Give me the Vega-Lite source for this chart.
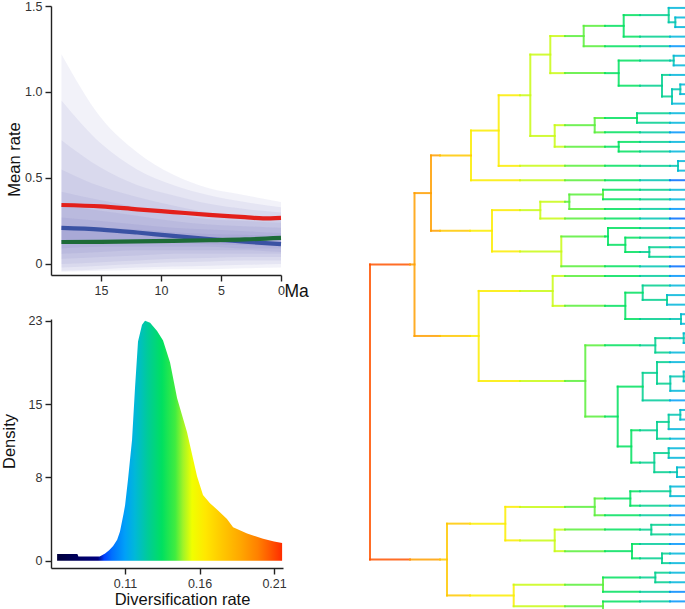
{
"$schema": "https://vega.github.io/schema/vega-lite/v6.json",
"padding": {"left": 1, "top": 0, "right": 0, "bottom": 0},
"background": "white",
"spacing": 59,
"config": {
  "view": {"stroke": null},
  "font": "Liberation Sans",
  "axis": {"domainColor": "#222222", "domainWidth": 1.4, "tickColor": "#222222", "tickWidth": 1.4, "tickSize": 6, "labelColor": "#333333", "labelFontSize": 12.5, "labelFont": "Liberation Sans", "titleFont": "Liberation Sans", "titleFontSize": 16.5, "titleFontWeight": "normal", "titleColor": "#111111", "grid": false, "labelPadding": 3}
},
"datasets": {
  "bands": [
    {"ma":18.3,"lo":-0.045,"hi":1.22,"lev":1},{"ma":15,"lo":-0.04,"hi":0.85,"lev":1},{"ma":12,"lo":-0.035,"hi":0.65,"lev":1},{"ma":9,"lo":-0.03,"hi":0.52,"lev":1},{"ma":6,"lo":-0.03,"hi":0.44,"lev":1},{"ma":3,"lo":-0.025,"hi":0.4,"lev":1},{"ma":0,"lo":-0.02,"hi":0.36,"lev":1},
    {"ma":18.3,"lo":-0.04,"hi":0.95,"lev":2},{"ma":15,"lo":-0.03,"hi":0.7,"lev":2},{"ma":12,"lo":-0.02,"hi":0.55,"lev":2},{"ma":9,"lo":-0.015,"hi":0.46,"lev":2},{"ma":6,"lo":-0.01,"hi":0.4,"lev":2},{"ma":3,"lo":-0.005,"hi":0.36,"lev":2},{"ma":0,"lo":0,"hi":0.33,"lev":2},
    {"ma":18.3,"lo":-0.02,"hi":0.72,"lev":3},{"ma":15,"lo":-0.01,"hi":0.56,"lev":3},{"ma":12,"lo":0,"hi":0.46,"lev":3},{"ma":9,"lo":0.01,"hi":0.4,"lev":3},{"ma":6,"lo":0.015,"hi":0.35,"lev":3},{"ma":3,"lo":0.02,"hi":0.32,"lev":3},{"ma":0,"lo":0.02,"hi":0.3,"lev":3},
    {"ma":18.3,"lo":0,"hi":0.55,"lev":4},{"ma":15,"lo":0.01,"hi":0.45,"lev":4},{"ma":12,"lo":0.02,"hi":0.39,"lev":4},{"ma":9,"lo":0.03,"hi":0.34,"lev":4},{"ma":6,"lo":0.035,"hi":0.3,"lev":4},{"ma":3,"lo":0.04,"hi":0.28,"lev":4},{"ma":0,"lo":0.04,"hi":0.27,"lev":4},
    {"ma":18.3,"lo":0.03,"hi":0.42,"lev":5},{"ma":15,"lo":0.04,"hi":0.37,"lev":5},{"ma":12,"lo":0.05,"hi":0.33,"lev":5},{"ma":9,"lo":0.06,"hi":0.29,"lev":5},{"ma":6,"lo":0.06,"hi":0.26,"lev":5},{"ma":3,"lo":0.06,"hi":0.25,"lev":5},{"ma":0,"lo":0.06,"hi":0.24,"lev":5},
    {"ma":18.3,"lo":0.06,"hi":0.34,"lev":6},{"ma":15,"lo":0.07,"hi":0.31,"lev":6},{"ma":12,"lo":0.08,"hi":0.28,"lev":6},{"ma":9,"lo":0.08,"hi":0.25,"lev":6},{"ma":6,"lo":0.08,"hi":0.23,"lev":6},{"ma":3,"lo":0.08,"hi":0.22,"lev":6},{"ma":0,"lo":0.07,"hi":0.21,"lev":6},
    {"ma":18.3,"lo":0.09,"hi":0.27,"lev":7},{"ma":15,"lo":0.1,"hi":0.25,"lev":7},{"ma":12,"lo":0.1,"hi":0.23,"lev":7},{"ma":9,"lo":0.1,"hi":0.21,"lev":7},{"ma":6,"lo":0.1,"hi":0.2,"lev":7},{"ma":3,"lo":0.09,"hi":0.19,"lev":7},{"ma":0,"lo":0.09,"hi":0.18,"lev":7},
    {"ma":18.3,"lo":0.12,"hi":0.22,"lev":8},{"ma":15,"lo":0.12,"hi":0.21,"lev":8},{"ma":12,"lo":0.12,"hi":0.2,"lev":8},{"ma":9,"lo":0.12,"hi":0.185,"lev":8},{"ma":6,"lo":0.115,"hi":0.175,"lev":8},{"ma":3,"lo":0.11,"hi":0.17,"lev":8},{"ma":0,"lo":0.105,"hi":0.16,"lev":8}
  ],
  "rates": [
    {"ma":18.3,"v":0.343,"s":"red"},{"ma":15,"v":0.335,"s":"red"},{"ma":12,"v":0.318,"s":"red"},{"ma":9,"v":0.302,"s":"red"},{"ma":6,"v":0.286,"s":"red"},{"ma":3,"v":0.272,"s":"red"},{"ma":1.5,"v":0.265,"s":"red"},{"ma":0,"v":0.268,"s":"red"},
    {"ma":18.3,"v":0.21,"s":"blue"},{"ma":15,"v":0.2,"s":"blue"},{"ma":12,"v":0.183,"s":"blue"},{"ma":9,"v":0.163,"s":"blue"},{"ma":6,"v":0.145,"s":"blue"},{"ma":3,"v":0.13,"s":"blue"},{"ma":0,"v":0.115,"s":"blue"},
    {"ma":18.3,"v":0.128,"s":"green"},{"ma":15,"v":0.129,"s":"green"},{"ma":12,"v":0.131,"s":"green"},{"ma":9,"v":0.134,"s":"green"},{"ma":6,"v":0.138,"s":"green"},{"ma":3,"v":0.143,"s":"green"},{"ma":0,"v":0.152,"s":"green"}
  ],
  "dens": [
    {"rate":0.0644,"d":0.65},{"rate":0.078,"d":0.65},{"rate":0.0787,"d":0.4},{"rate":0.093,"d":0.4},{"rate":0.0966,"d":0.7},{"rate":0.0993,"d":1.0},{"rate":0.102,"d":1.4},{"rate":0.1047,"d":2.0},{"rate":0.1066,"d":2.8},{"rate":0.109,"d":4.5},{"rate":0.11,"d":5.3},{"rate":0.112,"d":7.8},{"rate":0.1147,"d":11.6},{"rate":0.1167,"d":16.6},{"rate":0.1187,"d":21.0},{"rate":0.1214,"d":22.6},{"rate":0.1234,"d":23.0},{"rate":0.1268,"d":22.8},{"rate":0.1315,"d":22.0},{"rate":0.1355,"d":21.1},{"rate":0.1402,"d":19.0},{"rate":0.1449,"d":15.6},{"rate":0.1516,"d":12.3},{"rate":0.1583,"d":8.1},{"rate":0.1623,"d":6.3},{"rate":0.167,"d":5.5},{"rate":0.1717,"d":4.9},{"rate":0.1784,"d":4.0},{"rate":0.1825,"d":3.2},{"rate":0.1919,"d":2.6},{"rate":0.2026,"d":2.1},{"rate":0.21,"d":1.85},{"rate":0.2154,"d":1.7}
  ],
  "vseg": [
    {"x":0,"y":27.8,"y2":58.625,"r":0.208},{"x":44.5,"y":20.344,"y2":35.27,"r":0.19},{"x":61,"y":16.406,"y2":24.281,"r":0.19},{"x":77,"y":54.875,"y2":62.375,"r":0.175},
    {"x":101,"y":13.812,"y2":19,"r":0.162},{"x":108.7,"y":30.562,"y2":39.97,"r":0.162},{"x":122,"y":22.125,"y2":26.438,"r":0.162},{"x":128.7,"y":10.125,"y2":17.5,"r":0.162},{"x":135.3,"y":53.125,"y2":56.625,"r":0.162},{"x":143.7,"y":61.25,"y2":63.5,"r":0.162},
    {"x":160.3,"y":5.875,"y2":14.375,"r":0.152},{"x":170.3,"y":21.25,"y2":23,"r":0.152},{"x":180.3,"y":3.938,"y2":7.812,"r":0.152},{"x":182.7,"y":29,"y2":32.125,"r":0.152},{"x":184.7,"y":13.25,"y2":15.5,"r":0.152},{"x":184.7,"y":55.5,"y2":57.75,"r":0.152},{"x":191.3,"y":24.875,"y2":28,"r":0.152},
    {"x":199.3,"y":20.5,"y2":22,"r":0.145},{"x":213.7,"y":2.875,"y2":5,"r":0.145},{"x":215.3,"y":36.25,"y2":43.688,"r":0.145},{"x":224.7,"y":12.5,"y2":14,"r":0.145},{"x":224.7,"y":52.25,"y2":54,"r":0.145},{"x":233,"y":20,"y2":21,"r":0.145},{"x":233,"y":60.5,"y2":62,"r":0.145},{"x":233,"y":63,"y2":64,"r":0.145},
    {"x":238,"y":24,"y2":25.75,"r":0.135},{"x":247.7,"y":40.562,"y2":46.812,"r":0.135},{"x":248.7,"y":6.5,"y2":9.125,"r":0.135},{"x":248.7,"y":15,"y2":16,"r":0.135},{"x":253.7,"y":1.75,"y2":4,"r":0.135},{"x":255.3,"y":25,"y2":26.5,"r":0.135},{"x":255.3,"y":30.75,"y2":33.5,"r":0.135},{"x":260.3,"y":51.5,"y2":53,"r":0.135},{"x":261.3,"y":45.125,"y2":48.5,"r":0.135},{"x":262,"y":57,"y2":58.5,"r":0.135},{"x":267,"y":12,"y2":13,"r":0.135},
    {"x":272.7,"y":30,"y2":31.5,"r":0.127},{"x":272.7,"y":39.125,"y2":42,"r":0.127},{"x":279.3,"y":26,"y2":27,"r":0.127},{"x":281.3,"y":55,"y2":56,"r":0.127},{"x":284.3,"y":47.5,"y2":49.5,"r":0.127},{"x":285.3,"y":35.5,"y2":37,"r":0.127},{"x":285.3,"y":60,"y2":61,"r":0.127},{"x":287,"y":38,"y2":40.25,"r":0.127},{"x":287,"y":44.25,"y2":46,"r":0.127},{"x":292,"y":8,"y2":10.25,"r":0.127},{"x":292,"y":58,"y2":59,"r":0.127},{"x":297,"y":31,"y2":32,"r":0.127},{"x":298.7,"y":1,"y2":2.5,"r":0.127},{"x":298.7,"y":43.5,"y2":45,"r":0.127},{"x":298.7,"y":47,"y2":48,"r":0.127},
    {"x":300.3,"y":39.5,"y2":41,"r":0.122},{"x":300.3,"y":51,"y2":52,"r":0.122},{"x":302,"y":9.5,"y2":11,"r":0.122},{"x":303.7,"y":6,"y2":7,"r":0.122},{"x":305.3,"y":2,"y2":3,"r":0.122},{"x":307,"y":49,"y2":50,"r":0.122},{"x":308,"y":17,"y2":18,"r":0.122},{"x":310.3,"y":9,"y2":10,"r":0.122},{"x":310.3,"y":43,"y2":44,"r":0.122},{"x":311,"y":33,"y2":34,"r":0.122},{"x":313.7,"y":35,"y2":36,"r":0.122},{"x":313.7,"y":39,"y2":40,"r":0.122}
  ],
  "hseg": [
    {"x":0,"x2":40,"y":27.8,"r":0.208},{"x":40,"x2":44.5,"y":27.8,"r":0.19},
    {"x":0,"x2":40,"y":58.625,"r":0.208},{"x":40,"x2":70,"y":58.625,"r":0.19},{"x":70,"x2":77,"y":58.625,"r":0.175},
    {"x":44.5,"x2":61,"y":20.344,"r":0.19},
    {"x":44.5,"x2":70,"y":35.27,"r":0.19},{"x":70,"x2":100,"y":35.27,"r":0.175},{"x":100,"x2":108.7,"y":35.27,"r":0.162},
    {"x":61,"x2":70,"y":16.406,"r":0.19},{"x":70,"x2":101,"y":16.406,"r":0.175},
    {"x":61,"x2":70,"y":24.281,"r":0.19},{"x":70,"x2":100,"y":24.281,"r":0.175},{"x":100,"x2":122,"y":24.281,"r":0.162},
    {"x":77,"x2":100,"y":54.875,"r":0.175},{"x":100,"x2":135.3,"y":54.875,"r":0.162},
    {"x":77,"x2":100,"y":62.375,"r":0.175},{"x":100,"x2":143.7,"y":62.375,"r":0.162},
    {"x":101,"x2":128.7,"y":13.812,"r":0.162},
    {"x":128.7,"x2":150,"y":10.125,"r":0.162},{"x":150,"x2":160.3,"y":10.125,"r":0.152},
    {"x":128.7,"x2":150,"y":17.5,"r":0.162},{"x":150,"x2":195,"y":17.5,"r":0.152},{"x":195,"x2":235,"y":17.5,"r":0.145},{"x":235,"x2":270,"y":17.5,"r":0.135},{"x":270,"x2":300,"y":17.5,"r":0.127},{"x":300,"x2":308,"y":17.5,"r":0.122},
    {"x":160.3,"x2":180.3,"y":5.875,"r":0.152},
    {"x":160.3,"x2":184.7,"y":14.375,"r":0.152},
    {"x":180.3,"x2":195,"y":3.938,"r":0.152},{"x":195,"x2":213.7,"y":3.938,"r":0.145},
    {"x":180.3,"x2":195,"y":7.812,"r":0.152},{"x":195,"x2":235,"y":7.812,"r":0.145},{"x":235,"x2":248.7,"y":7.812,"r":0.135},
    {"x":213.7,"x2":235,"y":2.875,"r":0.145},{"x":235,"x2":253.7,"y":2.875,"r":0.135},
    {"x":253.7,"x2":270,"y":1.75,"r":0.135},{"x":270,"x2":298.7,"y":1.75,"r":0.127},
    {"x":298.7,"x2":305.3,"y":2.5,"r":0.122},
    {"x":248.7,"x2":270,"y":6.5,"r":0.135},{"x":270,"x2":300,"y":6.5,"r":0.127},{"x":300,"x2":303.7,"y":6.5,"r":0.122},
    {"x":248.7,"x2":270,"y":9.125,"r":0.135},{"x":270,"x2":292,"y":9.125,"r":0.127},
    {"x":292,"x2":302,"y":10.25,"r":0.127},
    {"x":302,"x2":310.3,"y":9.5,"r":0.122},
    {"x":184.7,"x2":195,"y":13.25,"r":0.152},{"x":195,"x2":224.7,"y":13.25,"r":0.145},
    {"x":224.7,"x2":235,"y":12.5,"r":0.145},{"x":235,"x2":267,"y":12.5,"r":0.135},
    {"x":184.7,"x2":195,"y":15.5,"r":0.152},{"x":195,"x2":235,"y":15.5,"r":0.145},{"x":235,"x2":248.7,"y":15.5,"r":0.135},
    {"x":122,"x2":150,"y":22.125,"r":0.162},{"x":150,"x2":170.3,"y":22.125,"r":0.152},
    {"x":122,"x2":150,"y":26.438,"r":0.162},{"x":150,"x2":191.3,"y":26.438,"r":0.152},
    {"x":170.3,"x2":195,"y":21.25,"r":0.152},{"x":195,"x2":199.3,"y":21.25,"r":0.145},
    {"x":199.3,"x2":233,"y":20.5,"r":0.145},
    {"x":191.3,"x2":235,"y":24.875,"r":0.145},{"x":235,"x2":238,"y":24.875,"r":0.135},
    {"x":238,"x2":255.3,"y":25.75,"r":0.135},
    {"x":255.3,"x2":270,"y":26.5,"r":0.135},{"x":270,"x2":279.3,"y":26.5,"r":0.127},
    {"x":108.7,"x2":150,"y":30.562,"r":0.162},{"x":150,"x2":182.7,"y":30.562,"r":0.152},
    {"x":108.7,"x2":150,"y":39.97,"r":0.162},{"x":150,"x2":195,"y":39.97,"r":0.152},{"x":195,"x2":215.3,"y":39.97,"r":0.145},
    {"x":182.7,"x2":195,"y":32.125,"r":0.152},{"x":195,"x2":235,"y":32.125,"r":0.145},{"x":235,"x2":255.3,"y":32.125,"r":0.135},
    {"x":255.3,"x2":272.7,"y":30.75,"r":0.135},
    {"x":272.7,"x2":297,"y":31.5,"r":0.127},
    {"x":255.3,"x2":270,"y":33.5,"r":0.135},{"x":270,"x2":300,"y":33.5,"r":0.127},{"x":300,"x2":311,"y":33.5,"r":0.122},
    {"x":215.3,"x2":235,"y":36.25,"r":0.145},{"x":235,"x2":270,"y":36.25,"r":0.135},{"x":270,"x2":285.3,"y":36.25,"r":0.127},
    {"x":285.3,"x2":300,"y":35.5,"r":0.127},{"x":300,"x2":313.7,"y":35.5,"r":0.122},
    {"x":215.3,"x2":235,"y":43.688,"r":0.145},{"x":235,"x2":247.7,"y":43.688,"r":0.135},
    {"x":247.7,"x2":272.7,"y":40.562,"r":0.135},
    {"x":272.7,"x2":287,"y":39.125,"r":0.127},
    {"x":287,"x2":300.3,"y":40.25,"r":0.127},
    {"x":300.3,"x2":313.7,"y":39.5,"r":0.122},
    {"x":247.7,"x2":261.3,"y":46.812,"r":0.135},
    {"x":261.3,"x2":270,"y":45.125,"r":0.135},{"x":270,"x2":287,"y":45.125,"r":0.127},
    {"x":287,"x2":298.7,"y":44.25,"r":0.127},
    {"x":298.7,"x2":310.3,"y":43.5,"r":0.122},
    {"x":261.3,"x2":270,"y":48.5,"r":0.135},{"x":270,"x2":284.3,"y":48.5,"r":0.127},
    {"x":284.3,"x2":298.7,"y":47.5,"r":0.127},
    {"x":284.3,"x2":300,"y":49.5,"r":0.127},{"x":300,"x2":307,"y":49.5,"r":0.122},
    {"x":135.3,"x2":150,"y":53.125,"r":0.162},{"x":150,"x2":195,"y":53.125,"r":0.152},{"x":195,"x2":224.7,"y":53.125,"r":0.145},
    {"x":224.7,"x2":235,"y":52.25,"r":0.145},{"x":235,"x2":260.3,"y":52.25,"r":0.135},
    {"x":260.3,"x2":270,"y":51.5,"r":0.135},{"x":270,"x2":300.3,"y":51.5,"r":0.127},
    {"x":135.3,"x2":150,"y":56.625,"r":0.162},{"x":150,"x2":184.7,"y":56.625,"r":0.152},
    {"x":184.7,"x2":195,"y":55.5,"r":0.152},{"x":195,"x2":235,"y":55.5,"r":0.145},{"x":235,"x2":270,"y":55.5,"r":0.135},{"x":270,"x2":281.3,"y":55.5,"r":0.127},
    {"x":184.7,"x2":195,"y":57.75,"r":0.152},{"x":195,"x2":235,"y":57.75,"r":0.145},{"x":235,"x2":262,"y":57.75,"r":0.135},
    {"x":262,"x2":270,"y":58.5,"r":0.135},{"x":270,"x2":292,"y":58.5,"r":0.127},
    {"x":143.7,"x2":195,"y":61.25,"r":0.152},{"x":195,"x2":233,"y":61.25,"r":0.145},
    {"x":233,"x2":270,"y":60.5,"r":0.135},{"x":270,"x2":285.3,"y":60.5,"r":0.127},
    {"x":143.7,"x2":195,"y":63.5,"r":0.152},{"x":195,"x2":233,"y":63.5,"r":0.145},
    {"x":298.7,"x2":317,"y":1,"r":0.116},
    {"x":305.3,"x2":317,"y":2,"r":0.116},{"x":305.3,"x2":317,"y":3,"r":0.116},
    {"x":253.7,"x2":270,"y":4,"r":0.135},{"x":270,"x2":300,"y":4,"r":0.127},{"x":300,"x2":317,"y":4,"r":0.116},
    {"x":213.7,"x2":235,"y":5,"r":0.145},{"x":235,"x2":270,"y":5,"r":0.135},{"x":270,"x2":300,"y":5,"r":0.125},{"x":300,"x2":317,"y":5,"r":0.108},
    {"x":303.7,"x2":317,"y":6,"r":0.116},{"x":303.7,"x2":317,"y":7,"r":0.116},
    {"x":292,"x2":300,"y":8,"r":0.127},{"x":300,"x2":317,"y":8,"r":0.116},
    {"x":310.3,"x2":317,"y":9,"r":0.116},{"x":310.3,"x2":317,"y":10,"r":0.116},
    {"x":302,"x2":317,"y":11,"r":0.116},
    {"x":267,"x2":300,"y":12,"r":0.127},{"x":300,"x2":317,"y":12,"r":0.116},
    {"x":267,"x2":300,"y":13,"r":0.127},{"x":300,"x2":317,"y":13,"r":0.116},
    {"x":224.7,"x2":235,"y":14,"r":0.145},{"x":235,"x2":270,"y":14,"r":0.135},{"x":270,"x2":300,"y":14,"r":0.125},{"x":300,"x2":317,"y":14,"r":0.108},
    {"x":248.7,"x2":270,"y":15,"r":0.135},{"x":270,"x2":300,"y":15,"r":0.127},{"x":300,"x2":317,"y":15,"r":0.116},
    {"x":248.7,"x2":270,"y":16,"r":0.135},{"x":270,"x2":300,"y":16,"r":0.127},{"x":300,"x2":317,"y":16,"r":0.116},
    {"x":308,"x2":317,"y":17,"r":0.116},{"x":308,"x2":317,"y":18,"r":0.116},
    {"x":101,"x2":150,"y":19,"r":0.162},{"x":150,"x2":195,"y":19,"r":0.152},{"x":195,"x2":235,"y":19,"r":0.145},{"x":235,"x2":270,"y":19,"r":0.135},{"x":270,"x2":300,"y":19,"r":0.122},{"x":300,"x2":317,"y":19,"r":0.101},
    {"x":233,"x2":270,"y":20,"r":0.135},{"x":270,"x2":300,"y":20,"r":0.127},{"x":300,"x2":317,"y":20,"r":0.116},
    {"x":233,"x2":270,"y":21,"r":0.135},{"x":270,"x2":300,"y":21,"r":0.127},{"x":300,"x2":317,"y":21,"r":0.116},
    {"x":199.3,"x2":235,"y":22,"r":0.145},{"x":235,"x2":270,"y":22,"r":0.135},{"x":270,"x2":300,"y":22,"r":0.125},{"x":300,"x2":317,"y":22,"r":0.108},
    {"x":170.3,"x2":195,"y":23,"r":0.152},{"x":195,"x2":235,"y":23,"r":0.145},{"x":235,"x2":270,"y":23,"r":0.135},{"x":270,"x2":300,"y":23,"r":0.122},{"x":300,"x2":317,"y":23,"r":0.101},
    {"x":238,"x2":270,"y":24,"r":0.135},{"x":270,"x2":300,"y":24,"r":0.127},{"x":300,"x2":317,"y":24,"r":0.116},
    {"x":255.3,"x2":270,"y":25,"r":0.135},{"x":270,"x2":300,"y":25,"r":0.127},{"x":300,"x2":317,"y":25,"r":0.116},
    {"x":279.3,"x2":300,"y":26,"r":0.127},{"x":300,"x2":317,"y":26,"r":0.116},
    {"x":279.3,"x2":300,"y":27,"r":0.127},{"x":300,"x2":317,"y":27,"r":0.116},
    {"x":191.3,"x2":235,"y":28,"r":0.145},{"x":235,"x2":270,"y":28,"r":0.135},{"x":270,"x2":300,"y":28,"r":0.122},{"x":300,"x2":317,"y":28,"r":0.101},
    {"x":182.7,"x2":195,"y":29,"r":0.152},{"x":195,"x2":235,"y":29,"r":0.145},{"x":235,"x2":270,"y":29,"r":0.135},{"x":270,"x2":300,"y":29,"r":0.125},{"x":300,"x2":317,"y":29,"r":0.108},
    {"x":272.7,"x2":300,"y":30,"r":0.127},{"x":300,"x2":317,"y":30,"r":0.116},
    {"x":297,"x2":317,"y":31,"r":0.116},{"x":297,"x2":317,"y":32,"r":0.116},
    {"x":311,"x2":317,"y":33,"r":0.116},{"x":311,"x2":317,"y":34,"r":0.116},
    {"x":313.7,"x2":317,"y":35,"r":0.116},{"x":313.7,"x2":317,"y":36,"r":0.116},
    {"x":285.3,"x2":300,"y":37,"r":0.127},{"x":300,"x2":317,"y":37,"r":0.116},
    {"x":287,"x2":300,"y":38,"r":0.127},{"x":300,"x2":317,"y":38,"r":0.116},
    {"x":313.7,"x2":317,"y":39,"r":0.116},{"x":313.7,"x2":317,"y":40,"r":0.116},
    {"x":300.3,"x2":317,"y":41,"r":0.116},
    {"x":272.7,"x2":300,"y":42,"r":0.125},{"x":300,"x2":317,"y":42,"r":0.11},
    {"x":310.3,"x2":317,"y":43,"r":0.116},{"x":310.3,"x2":317,"y":44,"r":0.116},
    {"x":298.7,"x2":317,"y":45,"r":0.116},
    {"x":287,"x2":300,"y":46,"r":0.127},{"x":300,"x2":317,"y":46,"r":0.116},
    {"x":298.7,"x2":317,"y":47,"r":0.116},{"x":298.7,"x2":317,"y":48,"r":0.116},
    {"x":307,"x2":317,"y":49,"r":0.116},{"x":307,"x2":317,"y":50,"r":0.116},
    {"x":300.3,"x2":317,"y":51,"r":0.116},{"x":300.3,"x2":317,"y":52,"r":0.116},
    {"x":260.3,"x2":270,"y":53,"r":0.135},{"x":270,"x2":300,"y":53,"r":0.127},{"x":300,"x2":317,"y":53,"r":0.112},
    {"x":224.7,"x2":235,"y":54,"r":0.145},{"x":235,"x2":270,"y":54,"r":0.135},{"x":270,"x2":300,"y":54,"r":0.125},{"x":300,"x2":317,"y":54,"r":0.106},
    {"x":281.3,"x2":300,"y":55,"r":0.127},{"x":300,"x2":317,"y":55,"r":0.116},
    {"x":281.3,"x2":300,"y":56,"r":0.127},{"x":300,"x2":317,"y":56,"r":0.116},
    {"x":262,"x2":270,"y":57,"r":0.135},{"x":270,"x2":300,"y":57,"r":0.125},{"x":300,"x2":317,"y":57,"r":0.108},
    {"x":292,"x2":300,"y":58,"r":0.127},{"x":300,"x2":317,"y":58,"r":0.116},
    {"x":292,"x2":300,"y":59,"r":0.127},{"x":300,"x2":317,"y":59,"r":0.116},
    {"x":285.3,"x2":300,"y":60,"r":0.127},{"x":300,"x2":317,"y":60,"r":0.116},
    {"x":285.3,"x2":300,"y":61,"r":0.127},{"x":300,"x2":317,"y":61,"r":0.116},
    {"x":233,"x2":270,"y":62,"r":0.135},{"x":270,"x2":300,"y":62,"r":0.125},{"x":300,"x2":317,"y":62,"r":0.106},
    {"x":233,"x2":270,"y":63,"r":0.135},{"x":270,"x2":300,"y":63,"r":0.125},{"x":300,"x2":317,"y":63,"r":0.108},
    {"x":233,"x2":270,"y":64,"r":0.135},{"x":270,"x2":300,"y":64,"r":0.11},{"x":300,"x2":317,"y":64,"r":0.07}
  ]
},
"hconcat": [
  {
    "bounds": "flush",
    "spacing": 44,
    "vconcat": [
      {
        "width": 230,
        "height": 269,
        "layer": [
          {
            "data": {"name": "bands"},
            "mark": {"type": "area", "interpolate": "monotone", "color": "#3a3aa0", "opacity": 0.065},
            "encoding": {
              "x": {"field": "ma", "type": "quantitative", "scale": {"domain": [0, 19.17], "reverse": true, "nice": false, "zero": false},
                    "axis": {"values": [15, 10, 5, 0], "title": "Ma", "titleX": 233, "titleY": 21, "titleAlign": "left", "titleBaseline": "alphabetic", "titleFontSize": 17.5, "labelFlush": false}},
              "y": {"field": "lo", "type": "quantitative", "scale": {"domain": [-0.064, 1.5], "nice": false, "zero": false},
                    "axis": {"values": [0, 0.5, 1, 1.5], "labelExpr": "datum.value == 0 ? '0' : format(datum.value, '.1f')", "title": "Mean rate", "titleX": -37, "titleY": 153, "titleAlign": "center", "titleBaseline": "middle", "titleAngle": -90}},
              "y2": {"field": "hi"},
              "detail": {"field": "lev", "type": "nominal"}
            }
          },
          {
            "data": {"name": "rates"},
            "mark": {"type": "line", "strokeWidth": 4.2, "interpolate": "monotone"},
            "encoding": {
              "x": {"field": "ma", "type": "quantitative"},
              "y": {"field": "v", "type": "quantitative"},
              "color": {"field": "s", "type": "nominal", "scale": {"domain": ["red", "blue", "green"], "range": ["#e3201b", "#3a52a3", "#1d6b37"]}, "legend": null}
            }
          }
        ]
      },
      {
        "width": 232,
        "height": 249,
        "data": {"name": "dens"},
        "mark": {"type": "area", "interpolate": "linear", "color": {"gradient": "linear", "x1": 0, "y1": 0, "x2": 1, "y2": 0, "stops": [
          {"offset": 0, "color": "#00003c"}, {"offset": 0.182, "color": "#000080"}, {"offset": 0.209, "color": "#0040ff"}, {"offset": 0.244, "color": "#0070ff"}, {"offset": 0.302, "color": "#00a0f8"}, {"offset": 0.346, "color": "#00b8d8"}, {"offset": 0.404, "color": "#00cc98"}, {"offset": 0.466, "color": "#00e060"}, {"offset": 0.525, "color": "#40ec40"}, {"offset": 0.56, "color": "#a0f428"}, {"offset": 0.6, "color": "#f0ff00"}, {"offset": 0.658, "color": "#ffe800"}, {"offset": 0.733, "color": "#ffc800"}, {"offset": 0.813, "color": "#ffa800"}, {"offset": 0.893, "color": "#ff8000"}, {"offset": 0.946, "color": "#ff5800"}, {"offset": 1, "color": "#ff2c00"}]}},
        "encoding": {
          "x": {"field": "rate", "type": "quantitative", "scale": {"domain": [0.0603, 0.216], "nice": false, "zero": false},
                "axis": {"values": [0.11, 0.16, 0.21], "format": ".2f", "title": "Diversification rate", "titleX": 131, "titleY": 36, "titleAlign": "center", "titleBaseline": "alphabetic", "labelFlush": false}},
          "y": {"field": "d", "type": "quantitative", "scale": {"domain": [-0.7, 23.16], "nice": false, "zero": false},
                "axis": {"values": [0, 8, 15, 23], "title": "Density", "titleX": -42, "titleY": 122, "titleAlign": "center", "titleBaseline": "middle", "titleAngle": -90}}
        }
      }
    ]
  },
  {
    "width": 317,
    "height": 609,
    "layer": [
      {
        "data": {"name": "vseg"},
        "mark": {"type": "rule", "strokeWidth": 2, "strokeCap": "square", "opacity": 0.85},
        "encoding": {
          "x": {"field": "x", "type": "quantitative", "scale": {"domain": [0, 317], "nice": false, "zero": false}, "axis": null},
          "y": {"field": "y", "type": "quantitative", "scale": {"domain": [0.8, 64.42], "reverse": true, "nice": false, "zero": false}, "axis": null},
          "y2": {"field": "y2"},
          "color": {"field": "r", "type": "quantitative", "legend": null, "scale": {"type": "linear", "interpolate": "rgb",
            "domain": [0.0644, 0.0919, 0.0959, 0.1013, 0.11, 0.1167, 0.1254, 0.1348, 0.1436, 0.1489, 0.155, 0.1637, 0.1751, 0.1872, 0.1992, 0.2073, 0.216],
            "range": ["#00003c", "#000080", "#0040ff", "#0070ff", "#00a0f8", "#00b8d8", "#00cc98", "#00e060", "#40ec40", "#a0f428", "#f0ff00", "#ffe800", "#ffc800", "#ffa800", "#ff8000", "#ff5800", "#ff2800"]}}
        }
      },
      {
        "data": {"name": "hseg"},
        "mark": {"type": "rule", "strokeWidth": 2, "strokeCap": "square", "opacity": 0.85},
        "encoding": {
          "x": {"field": "x", "type": "quantitative", "scale": {"domain": [0, 317], "nice": false, "zero": false}, "axis": null},
          "x2": {"field": "x2"},
          "y": {"field": "y", "type": "quantitative", "scale": {"domain": [0.8, 64.42], "reverse": true, "nice": false, "zero": false}, "axis": null},
          "color": {"field": "r", "type": "quantitative", "legend": null, "scale": {"type": "linear", "interpolate": "rgb",
            "domain": [0.0644, 0.0919, 0.0959, 0.1013, 0.11, 0.1167, 0.1254, 0.1348, 0.1436, 0.1489, 0.155, 0.1637, 0.1751, 0.1872, 0.1992, 0.2073, 0.216],
            "range": ["#00003c", "#000080", "#0040ff", "#0070ff", "#00a0f8", "#00b8d8", "#00cc98", "#00e060", "#40ec40", "#a0f428", "#f0ff00", "#ffe800", "#ffc800", "#ffa800", "#ff8000", "#ff5800", "#ff2800"]}}
        }
      }
    ]
  }
]
}
